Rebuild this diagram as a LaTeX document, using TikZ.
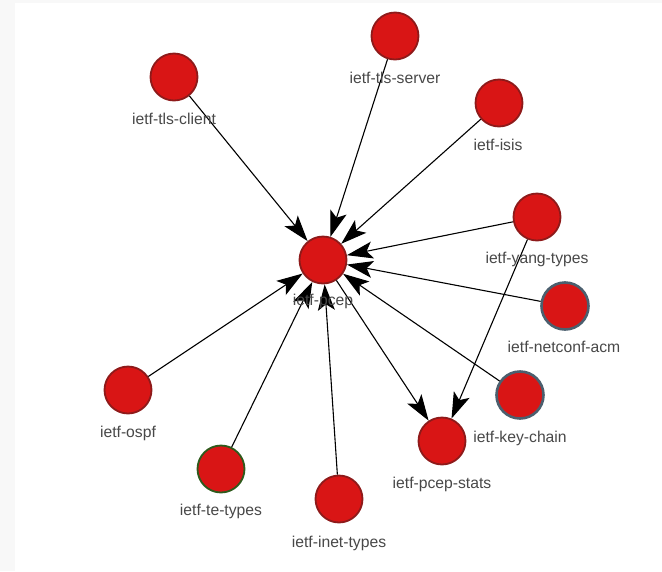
\documentclass[tikz,border=0pt]{standalone}
\usepackage{fontspec}
\setmainfont{Liberation Sans}
\usetikzlibrary{arrows.meta}
\definecolor{nodefill}{HTML}{D91515}
\definecolor{nodeborder}{HTML}{8E1A1A}
\definecolor{blueborder}{HTML}{4B5F6E}
\definecolor{greenborder}{HTML}{2E5A1C}
\definecolor{labelgray}{HTML}{484848}
\definecolor{bggray}{HTML}{F8F8F8}
\tikzset{
  mod/.style={circle, minimum size=47pt, inner sep=0pt, fill=nodefill, draw=nodeborder, line width=1.8pt},
  modblue/.style={mod, draw=blueborder, line width=2.6pt},
  modgreen/.style={mod, draw=greenborder, line width=1.8pt},
  lbl/.style={text=labelgray, font=\fontsize{15.7}{18}\selectfont, inner sep=0pt},
  arr/.style={draw=black, line width=1.1pt, -{Stealth[length=26pt, width=17pt, inset=6pt]}}
}
\begin{document}
\begin{tikzpicture}[x=1pt, y=-1pt]
\useasboundingbox (0,0) rectangle (662,571);
\fill[bggray] (0,0) rectangle (662,571);
\fill[white] (15,3) rectangle (662,571);

% nodes
\node[mod] (pcep) at (323,260) {};
\node[mod] (tlsclient) at (174,77) {};
\node[mod] (tlsserver) at (395,36) {};
\node[mod] (isis) at (499,103) {};
\node[mod] (yang) at (537,217) {};
\node[modblue] (nacm) at (565,306) {};
\node[modblue] (keychain) at (520,395) {};
\node[mod] (stats) at (442,441) {};
\node[mod] (inet) at (339,499) {};
\node[modgreen] (te) at (221,469) {};
\node[mod] (ospf) at (128,390) {};

% edges
\draw[arr] (tlsclient) -- (pcep);
\draw[arr] (tlsserver) -- (pcep);
\draw[arr] (isis) -- (pcep);
\draw[arr] (yang) -- (pcep);
\draw[arr] (nacm) -- (pcep);
\draw[arr] (keychain) -- (pcep);
\draw[arr] (ospf) -- (pcep);
\draw[arr] (te) -- (pcep);
\draw[arr] (inet) -- (pcep);
\draw[arr] (pcep) -- (stats);
\draw[arr] (yang) -- (stats);

% labels
\node[lbl] (lpcep) at (323,301) {ietf-pcep};
\node[lbl] (ltlsclient) at (174,119) {ietf-tls-client};
\node[lbl] (ltlsserver) at (395,78) {ietf-tls-server};
\node[lbl] (lisis) at (498,145) {ietf-isis};
\node[lbl] (lyang) at (537,259) {ietf-yang-types};
\node[lbl] (lnacm) at (564,347) {ietf-netconf-acm};
\node[lbl] (lkeychain) at (520,438) {ietf-key-chain};
\node[lbl] (lstats) at (442,484) {ietf-pcep-stats};
\node[lbl] (linet) at (339,543) {ietf-inet-types};
\node[lbl] (lte) at (221,511) {ietf-te-types};
\node[lbl] (lospf) at (128,433) {ietf-ospf};
\end{tikzpicture}
\end{document}
